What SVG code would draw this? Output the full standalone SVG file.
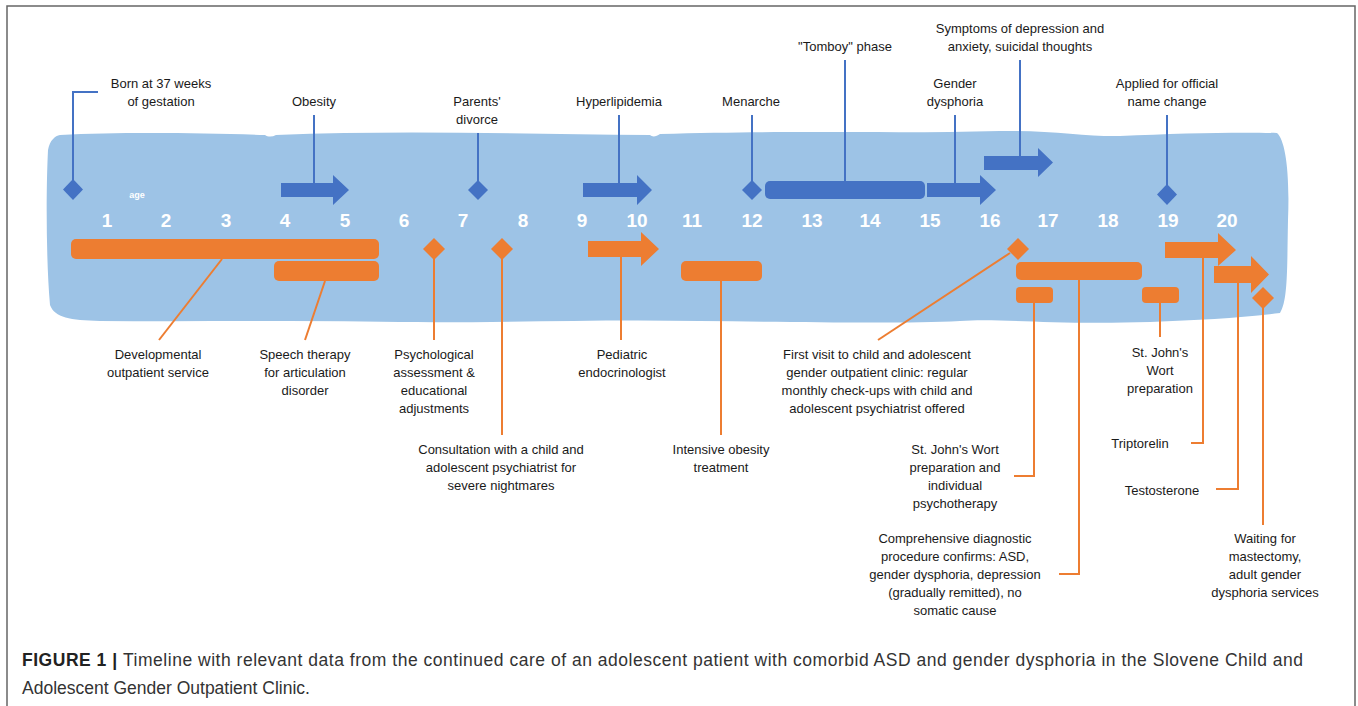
<svg xmlns="http://www.w3.org/2000/svg" width="1358" height="706" viewBox="0 0 1358 706">
<defs>
<style>
.lbl{font-family:"Liberation Sans",Arial,sans-serif;font-size:13px;fill:#1a1a1a;text-anchor:middle}
.num{font-family:"Liberation Sans",Arial,sans-serif;font-size:19px;font-weight:bold;fill:#ffffff;text-anchor:middle}
.b{fill:#4472C4}
.o{fill:#ED7D31}
.bl{stroke:#4472C4;stroke-width:2;fill:none}
.ol{stroke:#ED7D31;stroke-width:2;fill:none}
.cap{font-family:"Liberation Sans",Arial,sans-serif;font-size:17.5px;fill:#333333}
</style>
</defs>
<rect width="1358" height="706" fill="#ffffff"/>
<path d="M7,706 V6 H1355 V706" fill="none" stroke="#666666" stroke-width="1.5"/>

<g id="band">
<path fill="#9DC3E6" d="M60,135 C120,132 200,133 265,135 C268,137 272,137 276,135 C400,130 520,134 650,135 C652,137 656,137 660,134 C800,130 900,134 1000,131 C1050,130 1090,137 1120,136 C1180,133 1240,132 1277,133 C1285,140 1290,170 1288,220 C1287,270 1288,300 1280,313 C1240,318 1200,320 1150,322 C1050,325 1000,318 960,321 C900,324 800,322 700,321 C600,319 500,323 400,322 C300,320 200,322 100,321 C70,320 55,318 50,305 C46,260 46,190 48,150 C50,140 55,136 60,135 Z"/>
</g>

<g id="axis">
<text x="137" y="198" style="font-family:'Liberation Sans',Arial,sans-serif;font-size:9px;font-weight:bold;fill:#ffffff;text-anchor:middle">age</text>
<text class="num" x="107" y="227">1</text>
<text class="num" x="166" y="227">2</text>
<text class="num" x="226" y="227">3</text>
<text class="num" x="285" y="227">4</text>
<text class="num" x="345" y="227">5</text>
<text class="num" x="404" y="227">6</text>
<text class="num" x="463" y="227">7</text>
<text class="num" x="523" y="227">8</text>
<text class="num" x="582" y="227">9</text>
<text class="num" x="637" y="227">10</text>
<text class="num" x="692" y="227">11</text>
<text class="num" x="752" y="227">12</text>
<text class="num" x="812" y="227">13</text>
<text class="num" x="870" y="227">14</text>
<text class="num" x="930" y="227">15</text>
<text class="num" x="990" y="227">16</text>
<text class="num" x="1048" y="227">17</text>
<text class="num" x="1108" y="227">18</text>
<text class="num" x="1168" y="227">19</text>
<text class="num" x="1227" y="227">20</text>
</g>

<g id="connectors">
<path class="bl" d="M98,92 H73 V180"/>
<path class="bl" d="M314,115 V184"/>
<path class="bl" d="M478,133 V181"/>
<path class="bl" d="M619,115 V184"/>
<path class="bl" d="M752,115 V181"/>
<path class="bl" d="M845,60 V182"/>
<path class="bl" d="M955,115 V184"/>
<path class="bl" d="M1020,60 V157"/>
<path class="bl" d="M1167,115 V185"/>
<path class="ol" d="M222,259 L159,340"/>
<path class="ol" d="M325,281 L305,340"/>
<path class="ol" d="M434,258 V340"/>
<path class="ol" d="M502,258 V435"/>
<path class="ol" d="M621,256 V340"/>
<path class="ol" d="M721,280 V435"/>
<path class="ol" d="M1010,253 L878,340"/>
<path class="ol" d="M1034,302 V476 H1014"/>
<path class="ol" d="M1079,279 V574 H1059"/>
<path class="ol" d="M1160,302 V337"/>
<path class="ol" d="M1203,257 V443 H1191"/>
<path class="ol" d="M1238,282 V489 H1216"/>
<path class="ol" d="M1263,307 V525"/>
</g>

<g id="born">
<polygon class="b" points="73,179 83,189.5 73,200 63,189.5"/>
<text class="lbl" x="161" y="88">Born at 37 weeks</text>
<text class="lbl" x="161" y="106">of gestation</text>
</g>
<g id="obesity">
<polygon class="b" points="281,183 333,183 333,175 349,190 333,205 333,197 281,197"/>
<text class="lbl" x="314" y="106">Obesity</text>
</g>
<g id="divorce">
<polygon class="b" points="478,180 488,190 478,200 468,190"/>
<text class="lbl" x="477" y="106">Parents'</text>
<text class="lbl" x="477" y="124">divorce</text>
</g>
<g id="hyperlipidemia">
<polygon class="b" points="583,183 637,183 637,175 652,190 637,205 637,197 583,197"/>
<text class="lbl" x="619" y="106">Hyperlipidemia</text>
</g>
<g id="menarche">
<polygon class="b" points="752,180 762,190 752,200 742,190"/>
<text class="lbl" x="751" y="106">Menarche</text>
</g>
<g id="tomboy">
<rect class="b" x="765" y="181" width="160" height="18" rx="5"/>
<text class="lbl" x="845" y="51">"Tomboy" phase</text>
</g>
<g id="gender-dysphoria">
<polygon class="b" points="927,183 980,183 980,175 996,190 980,205 980,197 927,197"/>
<text class="lbl" x="955" y="88">Gender</text>
<text class="lbl" x="955" y="106">dysphoria</text>
</g>
<g id="symptoms">
<polygon class="b" points="984,156 1038,156 1038,148 1053,162.5 1038,177 1038,170 984,170"/>
<text class="lbl" x="1020" y="33">Symptoms of depression and</text>
<text class="lbl" x="1020" y="51">anxiety, suicidal thoughts</text>
</g>
<g id="name-change">
<polygon class="b" points="1167,184 1177,194.5 1167,205 1157,194.5"/>
<text class="lbl" x="1167" y="88">Applied for official</text>
<text class="lbl" x="1167" y="106">name change</text>
</g>

<g id="developmental">
<rect class="o" x="71" y="239" width="308" height="20" rx="5"/>
<text class="lbl" x="158" y="359">Developmental</text>
<text class="lbl" x="158" y="377">outpatient service</text>
</g>
<g id="speech">
<rect class="o" x="274" y="261" width="105" height="20" rx="5"/>
<text class="lbl" x="305" y="359">Speech therapy</text>
<text class="lbl" x="305" y="377">for articulation</text>
<text class="lbl" x="305" y="395">disorder</text>
</g>
<g id="psychological">
<polygon class="o" points="434,238 445,249 434,260 423,249"/>
<text class="lbl" x="434" y="359">Psychological</text>
<text class="lbl" x="434" y="377">assessment &amp;</text>
<text class="lbl" x="434" y="395">educational</text>
<text class="lbl" x="434" y="413">adjustments</text>
</g>
<g id="consultation">
<polygon class="o" points="502,238 513,249 502,260 491,249"/>
<text class="lbl" x="501" y="454">Consultation with a child and</text>
<text class="lbl" x="501" y="472">adolescent psychiatrist for</text>
<text class="lbl" x="501" y="490">severe nightmares</text>
</g>
<g id="pediatric">
<polygon class="o" points="588,241 641,241 641,232 659,249 641,266 641,257 588,257"/>
<text class="lbl" x="622" y="359">Pediatric</text>
<text class="lbl" x="622" y="377">endocrinologist</text>
</g>
<g id="intensive">
<rect class="o" x="681" y="261" width="81" height="20" rx="5"/>
<text class="lbl" x="721" y="454">Intensive obesity</text>
<text class="lbl" x="721" y="472">treatment</text>
</g>
<g id="first-visit">
<polygon class="o" points="1018,238 1029,249 1018,260 1007,249"/>
<text class="lbl" x="877" y="359">First visit to child and adolescent</text>
<text class="lbl" x="877" y="377">gender outpatient clinic: regular</text>
<text class="lbl" x="877" y="395">monthly check-ups with child and</text>
<text class="lbl" x="877" y="413">adolescent psychiatrist offered</text>
</g>
<g id="diagnostic">
<rect class="o" x="1016" y="262" width="126" height="18" rx="5"/>
<text class="lbl" x="955" y="543">Comprehensive diagnostic</text>
<text class="lbl" x="955" y="561">procedure confirms: ASD,</text>
<text class="lbl" x="955" y="579">gender dysphoria, depression</text>
<text class="lbl" x="955" y="597">(gradually remitted), no</text>
<text class="lbl" x="955" y="615">somatic cause</text>
</g>
<g id="sjw-psychotherapy">
<rect class="o" x="1016" y="287" width="37" height="16" rx="4"/>
<text class="lbl" x="955" y="454">St. John's Wort</text>
<text class="lbl" x="955" y="472">preparation and</text>
<text class="lbl" x="955" y="490">individual</text>
<text class="lbl" x="955" y="508">psychotherapy</text>
</g>
<g id="sjw">
<rect class="o" x="1142" y="287" width="37" height="16" rx="4"/>
<text class="lbl" x="1160" y="357">St. John's</text>
<text class="lbl" x="1160" y="375">Wort</text>
<text class="lbl" x="1160" y="393">preparation</text>
</g>
<g id="triptorelin">
<polygon class="o" points="1165,242 1218,242 1218,233 1236,250 1218,266 1218,258 1165,258"/>
<text class="lbl" x="1140" y="448">Triptorelin</text>
</g>
<g id="testosterone">
<polygon class="o" points="1214,266 1251,266 1251,256 1269,274.5 1251,293 1251,283 1214,283"/>
<text class="lbl" x="1162" y="495">Testosterone</text>
</g>
<g id="waiting">
<polygon class="o" points="1263,287 1274,298 1263,309 1252,298"/>
<text class="lbl" x="1265" y="543">Waiting for</text>
<text class="lbl" x="1265" y="561">mastectomy,</text>
<text class="lbl" x="1265" y="579">adult gender</text>
<text class="lbl" x="1265" y="597">dysphoria services</text>
</g>

<g id="caption">
<text class="cap" x="22" y="666" textLength="1281" lengthAdjust="spacing"><tspan font-weight="bold" fill="#222222">FIGURE 1 | </tspan>Timeline with relevant data from the continued care of an adolescent patient with comorbid ASD and gender dysphoria in the Slovene Child and</text>
<text class="cap" x="22" y="694">Adolescent Gender Outpatient Clinic.</text>
</g>
</svg>
